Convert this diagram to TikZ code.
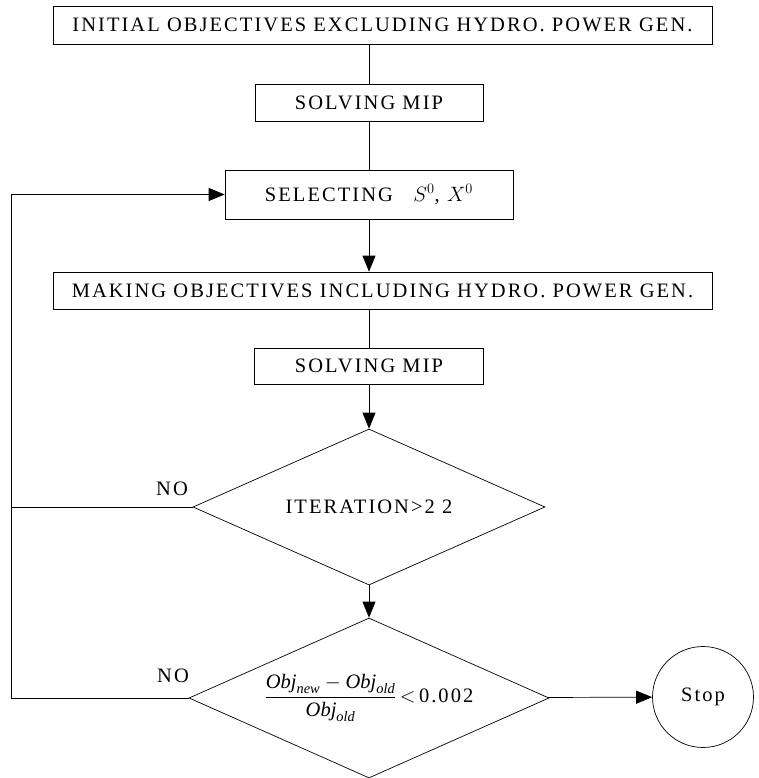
\documentclass[tikz,border=0pt]{standalone}
\usepackage{amsmath}
\usepackage{fontspec}
\setmainfont{Liberation Serif}
\usetikzlibrary{positioning,arrows.meta,shapes.geometric}

\begin{document}
\begin{tikzpicture}[
x=1pt, y=-1pt,
>={Triangle[length=16pt,width=13pt]},
every node/.style={font=\fontsize{20.5}{24}\selectfont\addfontfeature{LetterSpace=10}},
box/.style={
draw,
line width=0.7pt,
inner sep=0pt,
align=center,
minimum height=37pt
},
decision/.style={
draw,
diamond,
aspect=2.25,
line width=0.7pt,
inner sep=0pt
},
arrow/.style={->,line width=0.7pt},
link/.style={line width=0.7pt}
]
\useasboundingbox (0,0) rectangle (759,778);

% Initial step
\node[box, minimum width=659pt, minimum height=38pt] (init) at (382.5,25)
{INITIAL OBJECTIVES EXCLUDING HYDRO. POWER GEN.};

\node[box, minimum width=228pt] (solve1) at (369,102.5) {SOLVING MIP};

% Selection
\node[box, minimum width=288pt, minimum height=49pt] (select) at (369,194.5)
{SELECTING\quad $S^0$, $X^0$};

% Objectives with hydro
\node[box, minimum width=659pt] (making) at (382.5,290.5)
{MAKING OBJECTIVES INCLUDING HYDRO. POWER GEN.};

\node[box, minimum width=229pt, minimum height=36pt] (solve2) at (369,366) {SOLVING MIP};

% Tests
\node[decision, minimum width=352pt, minimum height=156pt] (iter) at (369,507)
{ITERATION>2 2};

\node[decision, minimum width=360pt, minimum height=160pt] (conv) at (369,698)
{$\dfrac{\mathit{Obj}_{\mathit{new}}-\mathit{Obj}_{\mathit{old}}}{\mathit{Obj}_{\mathit{old}}}$\,$<$\,0.002};

% Stop
\node[draw, circle, line width=0.7pt, minimum size=101pt, inner sep=0pt] (stop) at (703,697) {Stop};

% Labels
\node (no1) at (172,489) {NO};
\node (no2) at (173,676) {NO};

\coordinate (loop) at (11,0);

% Arrows
\draw[link] (init.south -| solve1) -- (solve1);
\draw[link] (solve1) -- (select);
\draw[arrow] (select) -- (making.north -| select);
\draw[link] (making.south -| solve2) -- (solve2);
\draw[arrow] (solve2) -- (iter);
\draw[arrow] (iter) -- (conv);
\draw[arrow] (conv) -- (stop);

\draw[arrow] (iter.west) -- (iter.west -| loop) |- (select.west);
\draw[link] (conv.west) -- (conv.west -| loop) -- (iter.west -| loop);

\end{tikzpicture}
\end{document}
